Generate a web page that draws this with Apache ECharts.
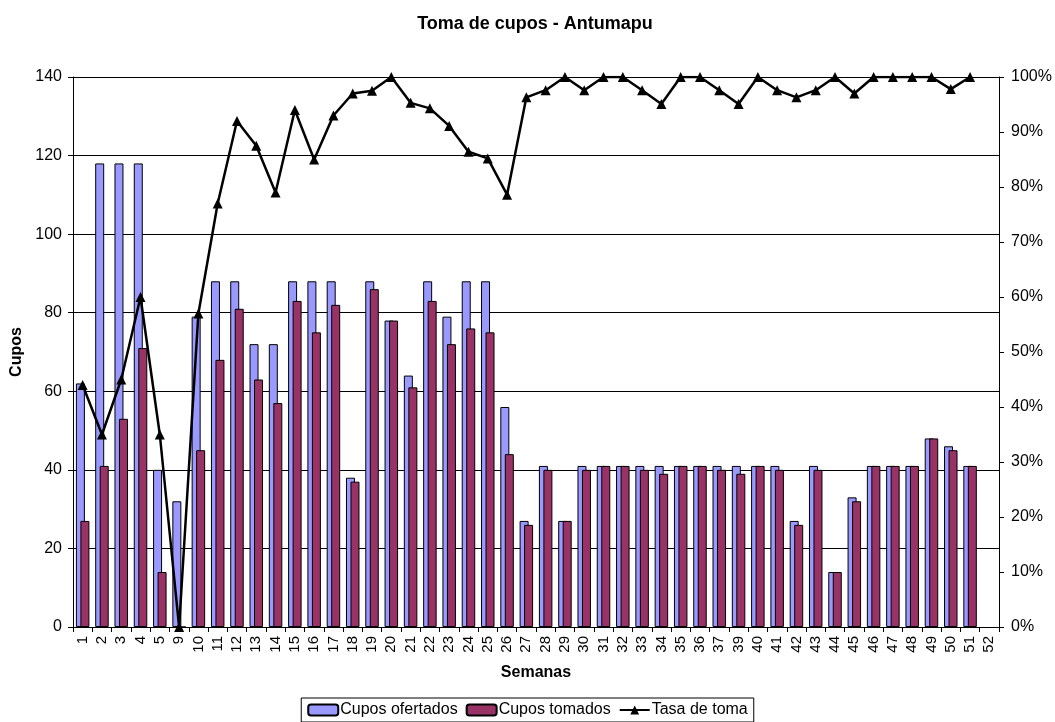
<!DOCTYPE html>
<html>
<head>
<meta charset="utf-8">
<script src="https://cdn.jsdelivr.net/npm/echarts@6/dist/echarts.min.js"></script>
<style>
  html, body { margin: 0; padding: 0; background: #fff; }
  #chart { width: 1055px; height: 722px; }
</style>
</head>
<body>
<div id="chart"></div>
<script>
// semanas (no hay 6, 7, 8 ni 38)
var semanas = ['1','2','3','4','5','9','10','11','12','13','14','15','16','17','18','19','20','21','22','23','24','25','26','27','28','29','30','31','32','33','34','35','36','37','39','40','41','42','43','44','45','46','47','48','49','50','51','52'];

var cuposOfertados = [62,118,118,118,40,32,79,88,88,72,72,88,88,88,38,88,78,64,88,79,88,88,56,27,41,27,41,41,41,41,41,41,41,41,41,41,41,27,41,14,33,41,41,41,48,46,41,null];

var cuposTomados = [27,41,53,71,14,0,45,68,81,63,57,83,75,82,37,86,78,61,83,72,76,75,44,26,40,27,40,41,41,40,39,41,41,40,39,41,40,26,40,14,32,41,41,41,48,45,41,null];

var tasaToma = [0.44,0.35,0.45,0.60,0.35,0,0.57,0.77,0.92,0.875,0.79,0.94,0.85,0.93,0.97,0.975,1,0.953,0.943,0.911,0.864,0.852,0.786,0.963,0.976,1,0.976,1,1,0.976,0.951,1,1,0.976,0.951,1,0.976,0.963,0.976,1,0.97,1,1,1,1,0.978,1,null];

var fuente = 'Liberation Sans, Arial, sans-serif';

var chart = echarts.init(document.getElementById('chart'), null, { renderer: 'canvas' });

var option = {
  animation: false,
  textStyle: { fontFamily: fuente, color: '#000' },
  title: {
    text: 'Toma de cupos - Antumapu',
    left: 530,
    textAlign: 'center',
    top: 10,
    textStyle: { fontFamily: fuente, fontSize: 18, fontWeight: 'bold', color: '#000' }
  },
  legend: {
    bottom: 0,
    left: 'center',
    borderColor: '#000',
    borderWidth: 1,
    padding: [4, 6, 4, 6],
    itemGap: 8,
    itemWidth: 30,
    itemHeight: 11,
    textStyle: { fontFamily: fuente, fontSize: 16, color: '#000', padding: [0, 0, 0, -3] },
    data: ['Cupos ofertados', 'Cupos tomados', 'Tasa de toma']
  },
  grid: {
    left: 73,
    right: 56,
    top: 77,
    bottom: 95
  },
  xAxis: {
    type: 'category',
    data: semanas,
    name: 'Semanas',
    nameLocation: 'middle',
    nameGap: 38,
    nameTextStyle: { fontFamily: fuente, fontSize: 16, fontWeight: 'bold', color: '#000' },
    axisLine: { lineStyle: { color: '#000', width: 1 } },
    axisTick: { show: true, interval: 0, length: 5, lineStyle: { color: '#000' } },
    axisLabel: { interval: 0, rotate: 90, margin: 9, fontSize: 15, color: '#000', fontFamily: fuente },
    splitLine: { show: false }
  },
  yAxis: [
    {
      type: 'value',
      min: 0,
      max: 140,
      interval: 20,
      name: 'Cupos',
      nameLocation: 'middle',
      nameRotate: 90,
      nameGap: 48,
      nameTextStyle: { fontFamily: fuente, fontSize: 16, fontWeight: 'bold', color: '#000' },
      axisLine: { show: true, lineStyle: { color: '#000' } },
      axisTick: { show: true, length: 5, lineStyle: { color: '#000' } },
      axisLabel: { margin: 11, fontSize: 16, color: '#000', fontFamily: fuente },
      splitLine: { show: true, lineStyle: { color: '#000', width: 1 } }
    },
    {
      type: 'value',
      min: 0,
      max: 1,
      interval: 0.1,
      position: 'right',
      axisLine: { show: true, lineStyle: { color: '#000' } },
      axisTick: { show: true, length: 5, lineStyle: { color: '#000' } },
      axisLabel: {
        margin: 12,
        fontSize: 16,
        color: '#000',
        fontFamily: fuente,
        formatter: function (v) { return Math.round(v * 100) + '%'; }
      },
      splitLine: { show: false }
    }
  ],
  series: [
    {
      name: 'Cupos ofertados',
      type: 'bar',
      data: cuposOfertados,
      barWidth: 9,
      barGap: '-50%',
      itemStyle: { color: '#9999FF', borderColor: '#000', borderWidth: 1 }
    },
    {
      name: 'Cupos tomados',
      type: 'bar',
      data: cuposTomados,
      barWidth: 9,
      barGap: '-50%',
      itemStyle: { color: '#993366', borderColor: '#000', borderWidth: 1 }
    },
    {
      name: 'Tasa de toma',
      type: 'line',
      yAxisIndex: 1,
      data: tasaToma,
      symbol: 'triangle',
      symbolSize: 10,
      lineStyle: { color: '#000', width: 2.5 },
      itemStyle: { color: '#000' },
      z: 5
    }
  ]
};

chart.setOption(option);
</script>
</body>
</html>
